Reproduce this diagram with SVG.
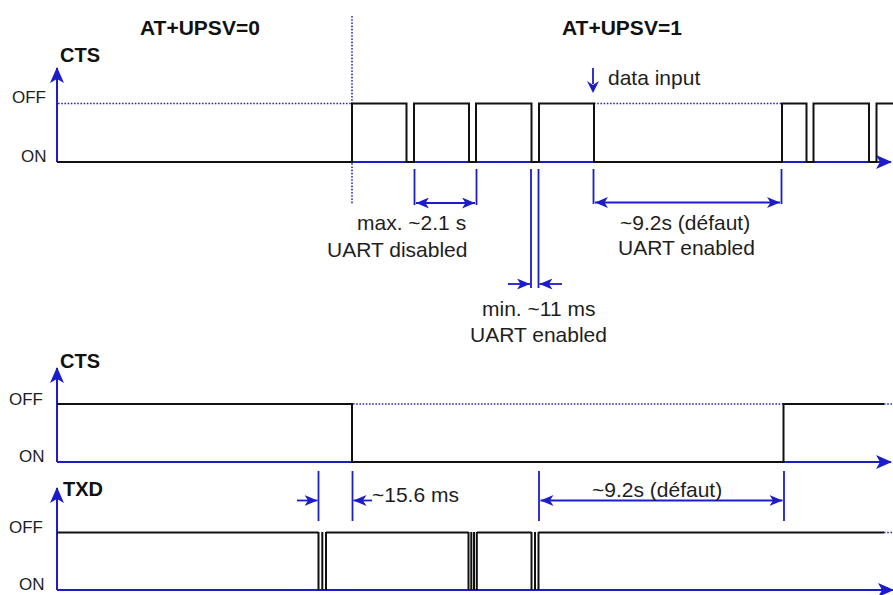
<svg xmlns="http://www.w3.org/2000/svg" width="893" height="595" viewBox="0 0 893 595">
<defs>
<style>
.t{font-family:"Liberation Sans",Arial,sans-serif;font-size:21px;fill:#1e1e1e}
.b{font-family:"Liberation Sans",Arial,sans-serif;font-weight:bold;fill:#111}
.lv{font-family:"Liberation Sans",Arial,sans-serif;font-size:17px;fill:#1e1e1e}
.ax{stroke:#1c1cc8;stroke-width:2;fill:none}
.wf{stroke:#111;stroke-width:2;fill:none}
.dot{stroke:#2a2ab4;stroke-width:1.6;stroke-dasharray:1.6 1.6;fill:none}
.tk{stroke:#1c1cc8;stroke-width:1.8;fill:none}
</style>
<marker id="axa" viewBox="0 0 16 14" refX="15" refY="7" markerWidth="16" markerHeight="14" orient="auto" markerUnits="userSpaceOnUse">
<path d="M0,0 L16,7 L0,14 L4,7 z" fill="#1c1cc8"/>
</marker>
<marker id="da" viewBox="0 0 13 11" refX="13" refY="5.5" markerWidth="13" markerHeight="11" orient="auto-start-reverse" markerUnits="userSpaceOnUse">
<path d="M0,0 L13,5.5 L0,11 L3.5,5.5 z" fill="#1c1cc8"/>
</marker>
</defs>
<rect width="893" height="595" fill="#fff"/>

<g id="titles">
<text class="b" x="140" y="35" font-size="21">AT+UPSV=0</text>
<text class="b" x="562" y="35" font-size="21">AT+UPSV=1</text>
<line class="dot" x1="352" y1="16" x2="352" y2="204"/>
</g>

<g id="cts1">
<text class="b" x="60" y="61.5" font-size="20">CTS</text>
<text class="lv" x="12" y="103">OFF</text>
<text class="lv" x="21" y="162">ON</text>
<line class="ax" x1="57" y1="162" x2="57" y2="68" marker-end="url(#axa)"/>
<line class="ax" x1="57" y1="162" x2="891" y2="162" marker-end="url(#axa)"/>
<line class="dot" x1="58" y1="103.5" x2="352" y2="103.5"/>
<line class="dot" x1="594" y1="103.5" x2="782" y2="103.5"/>
<path class="wf" d="M57,162 H352 V103.5 H406.5 V162 H414 V103.5 H469 V162 H476 V103.5 H531.5 V162 H539 V103.5 H594 V162 H782 V103.5 H806.5 V162 H813.5 V103.5 H869 V162 H876.5 V103.5 H893"/>
<line class="tk" x1="593" y1="68" x2="593" y2="84"/>
<path d="M587,81 L593,93 L599,81 L593,85 z" fill="#1c1cc8"/>
<text class="t" x="608" y="85">data input</text>
</g>

<g id="dims1">
<line class="tk" x1="414.5" y1="169" x2="414.5" y2="205"/>
<line class="tk" x1="476.5" y1="169" x2="476.5" y2="205"/>
<line class="tk" x1="416" y1="203" x2="475" y2="203" marker-start="url(#da)" marker-end="url(#da)"/>
<text class="t" x="357" y="229.5">max. ~2.1 s</text>
<text class="t" x="327" y="256.5">UART disabled</text>

<line class="tk" x1="531" y1="169" x2="531" y2="288"/>
<line class="tk" x1="538.5" y1="169" x2="538.5" y2="288"/>
<line class="tk" x1="508" y1="284" x2="530" y2="284" marker-end="url(#da)"/>
<line class="tk" x1="562" y1="284" x2="539.5" y2="284" marker-end="url(#da)"/>
<text class="t" x="482" y="316">min. ~11 ms</text>
<text class="t" x="470" y="342">UART enabled</text>

<line class="tk" x1="593.5" y1="169" x2="593.5" y2="204"/>
<line class="tk" x1="781.5" y1="169" x2="781.5" y2="204"/>
<line class="tk" x1="595" y1="202.5" x2="780" y2="202.5" marker-start="url(#da)" marker-end="url(#da)"/>
<text class="t" x="620" y="230">~9.2s (défaut)</text>
<text class="t" x="618" y="255">UART enabled</text>
</g>

<g id="cts2">
<text class="b" x="60" y="368" font-size="20">CTS</text>
<text class="lv" x="9" y="405">OFF</text>
<text class="lv" x="19" y="462">ON</text>
<line class="ax" x1="57" y1="462" x2="57" y2="368" marker-end="url(#axa)"/>
<line class="ax" x1="57" y1="462" x2="891" y2="462" marker-end="url(#axa)"/>
<line class="dot" x1="353" y1="404" x2="783" y2="404"/>
<path class="wf" d="M57,404 H352 V462 H783.5 V404 H884"/>
<line class="dot" x1="884" y1="404" x2="893" y2="404"/>
</g>

<g id="txd">
<text class="b" x="63" y="496" font-size="20">TXD</text>
<text class="lv" x="9" y="533">OFF</text>
<text class="lv" x="19" y="590">ON</text>
<line class="ax" x1="57" y1="590" x2="57" y2="488" marker-end="url(#axa)"/>
<line class="ax" x1="57" y1="590" x2="893" y2="590" marker-end="url(#axa)"/>
<path class="wf" d="M57,532.5 H318.5 M326,532.5 H468.5 M477,532.5 H531.5 M538.5,532.5 H884"/>
<line class="dot" x1="884" y1="532.5" x2="893" y2="532.5"/>
<path class="wf" stroke-width="1.6" d="M318.5,532 V590 M322.3,532 V590 M326,532 V590 M468.5,532 V590 M471.3,532 V590 M474,532 V590 M476.8,532 V590 M531.5,532 V590 M535,532 V590 M538.5,532 V590"/>
</g>

<g id="dims2">
<line class="tk" x1="318.5" y1="471" x2="318.5" y2="521"/>
<line class="tk" x1="352.5" y1="471" x2="352.5" y2="521"/>
<line class="tk" x1="297" y1="500.5" x2="317.5" y2="500.5" marker-end="url(#da)"/>
<line class="tk" x1="372" y1="500.5" x2="353.5" y2="500.5" marker-end="url(#da)"/>
<text class="t" x="372" y="502">~15.6 ms</text>
<line class="tk" x1="539" y1="471" x2="539" y2="521"/>
<line class="tk" x1="784" y1="471" x2="784" y2="521"/>
<line class="tk" x1="540.5" y1="500.5" x2="782.5" y2="500.5" marker-start="url(#da)" marker-end="url(#da)"/>
<text class="t" x="592" y="497">~9.2s (défaut)</text>
</g>
</svg>
